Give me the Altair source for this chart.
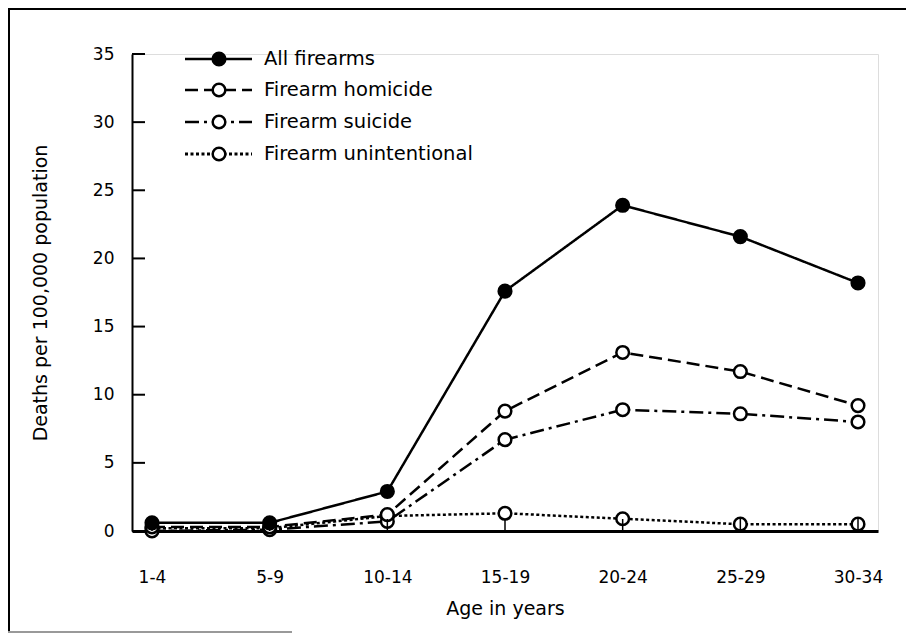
import altair as alt
import pandas as pd

ages = ["1-4", "5-9", "10-14", "15-19", "20-24", "25-29", "30-34"]
series_names = ["All firearms", "Firearm homicide", "Firearm suicide", "Firearm unintentional"]
all_firearms = [0.6, 0.6, 2.9, 17.6, 23.9, 21.6, 18.2]
homicide = [0.3, 0.3, 1.2, 8.8, 13.1, 11.7, 9.2]
suicide = [0.0, 0.1, 0.7, 6.7, 8.9, 8.6, 8.0]
unintentional = [0.2, 0.2, 1.1, 1.3, 0.9, 0.5, 0.5]
y_ticks = [0, 5, 10, 15, 20, 25, 30, 35]

values = [all_firearms, homicide, suicide, unintentional]
rows = []
for name, vals in zip(series_names, values):
    for a, v in zip(ages, vals):
        rows.append({"age": a, "series": name, "rate": v})
df = pd.DataFrame(rows)

dashes = [[1, 0], [13, 6], [14, 5, 3, 5], [3, 2.5]]
widths = [2.5, 2.5, 2.5, 3.2]
fills = ["black", "white", "white", "white"]

W, H = 746, 477
FONT = "DejaVu Sans"

x_enc = alt.X("age:O", sort=ages, scale=alt.Scale(type="point", padding=0.17),
              axis=alt.Axis(title="Age in years", labelAngle=0, ticks=False, domainWidth=3,
                            domainColor="black", labelPadding=38, titlePadding=14,
                            labelFontSize=17, titleFontSize=19, labelFont=FONT, titleFont=FONT,
                            labelColor="black", titleColor="black", titleFontWeight="normal",
                            grid=False))
y_enc = alt.Y("rate:Q", scale=alt.Scale(domain=[0, 35], nice=False),
              axis=alt.Axis(title="Deaths per 100,000 population", values=y_ticks, ticks=False,
                            domainWidth=2, domainColor="black", labelPadding=18, titlePadding=42,
                            labelFontSize=17, titleFontSize=19, labelFont=FONT, titleFont=FONT,
                            labelColor="black", titleColor="black", titleFontWeight="normal",
                            grid=False))

lines = alt.Chart(df).mark_line(color="black").encode(
    x=x_enc, y=y_enc,
    strokeDash=alt.StrokeDash("series:N", scale=alt.Scale(domain=series_names, range=dashes), legend=None),
    strokeWidth=alt.StrokeWidth("series:N", scale=alt.Scale(domain=series_names, range=widths), legend=None),
    detail="series:N",
)
points = alt.Chart(df).mark_point(shape="circle", size=160, stroke="black", strokeWidth=2.5, opacity=1).encode(
    x=alt.X("age:O", sort=ages),
    y=alt.Y("rate:Q"),
    fill=alt.Fill("series:N", scale=alt.Scale(domain=series_names, range=fills), legend=None),
    order=alt.Order("series:N", sort="descending"),
)

ytick_df = pd.DataFrame({"v": y_ticks})
yticks = alt.Chart(ytick_df).mark_rule(color="black", strokeWidth=2).encode(
    y=alt.Y("v:Q"), x=alt.value(0), x2=alt.value(13))
xtick_df = pd.DataFrame({"age": ages})
xticks = alt.Chart(xtick_df).mark_rule(color="black", strokeWidth=1.5).encode(
    x=alt.X("age:O", sort=ages), y=alt.value(H), y2=alt.value(H - 12))

# legend
leg_layers = []
leg_y = [5, 36, 68, 100]
for i, name in enumerate(series_names):
    one = pd.DataFrame({"series": [name]})
    leg_layers.append(alt.Chart(one).mark_rule(color="black", strokeWidth=widths[i], strokeDash=dashes[i]).encode(
        x=alt.value(53), x2=alt.value(120), y=alt.value(leg_y[i])))
    leg_layers.append(alt.Chart(one).mark_point(shape="circle", size=160, stroke="black", strokeWidth=2.5,
                                                fill=fills[i], opacity=1).encode(
        x=alt.value(87), y=alt.value(leg_y[i])))
    leg_layers.append(alt.Chart(one).mark_text(align="left", baseline="middle", font=FONT, fontSize=19.5,
                                               color="black").encode(
        x=alt.value(132), y=alt.value(leg_y[i]), text="series:N"))

# frame
frame_df = pd.DataFrame({"k": [1]})
frame_top = alt.Chart(frame_df).mark_rule(color="black", strokeWidth=2).encode(
    x=alt.value(-124), x2=alt.value(W + 28), y=alt.value(-45))
frame_left = alt.Chart(frame_df).mark_rule(color="black", strokeWidth=2).encode(
    x=alt.value(-123), y=alt.value(-46), y2=alt.value(H + 102))
frame_bottom = alt.Chart(frame_df).mark_rule(color="#999999", strokeWidth=2).encode(
    x=alt.value(-124), x2=alt.value(160), y=alt.value(H + 101))

chart = alt.layer(lines, points, yticks, xticks, *leg_layers, frame_top, frame_left, frame_bottom).properties(
    width=W, height=H,
    padding={"left": 124, "top": 46, "right": 28, "bottom": 103},
    autosize=alt.AutoSizeParams(type="none"),
).configure_view(stroke=None).configure(background="white")

chart.save("out.html", embed_options={"renderer": "svg", "actions": False})
